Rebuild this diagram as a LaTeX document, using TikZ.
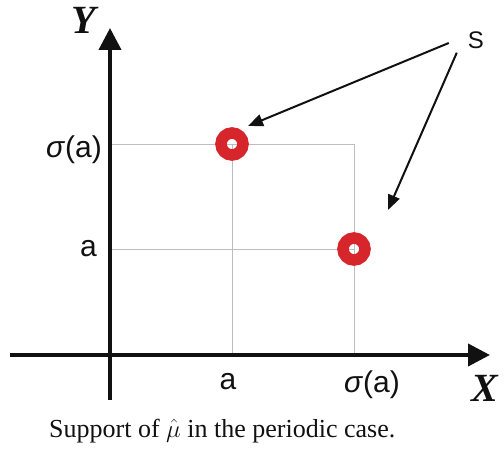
\documentclass[tikz,border=0pt]{standalone}
\usepackage{fontspec}
\setmainfont{Liberation Serif}
\setsansfont{Liberation Sans}
\usetikzlibrary{arrows.meta,positioning}
\definecolor{SuppRed}{HTML}{D7262B}
\definecolor{SuppGrid}{HTML}{BDBDBD}
\definecolor{SuppInk}{HTML}{111111}

\begin{document}
\begin{tikzpicture}[
  x=1pt,y=-1pt,
  axis/.style={draw=SuppInk,line width=4pt,-{Triangle[length=22pt,width=22pt]}},
  guide/.style={draw=SuppGrid,line width=0.8pt},
  ring/.style={circle,draw=SuppRed,line width=11.5pt,minimum size=22pt,inner sep=0pt},
  pointer/.style={draw=SuppInk,line width=2pt,-{Triangle[length=15pt,width=12pt]}},
  tick/.style={text=SuppInk,font=\sffamily\fontsize{30}{30}\selectfont,inner sep=0pt},
  axlabel/.style={text=SuppInk,font=\bfseries\itshape\fontsize{40}{40}\selectfont,inner sep=0pt},
  caption/.style={text=SuppInk,font=\fontsize{26}{30}\selectfont,inner sep=0pt}
]
\useasboundingbox (0,0) rectangle (504,449);
% axes
\coordinate (ybot) at (110,400);
\coordinate (ytop) at (110,28);
\coordinate (xleft) at (10,355);
\coordinate (xright) at (490,355);
\coordinate (ga) at (232,144);
\coordinate (gb) at (354,249);
\draw[guide] (ybot |- ga) -- (gb |- ga) -- (gb |- xleft);
\draw[guide] (ga) -- (ga |- xleft);
\draw[guide] (ybot |- gb) -- (gb);
\draw[axis] (ybot) -- (ytop);
\draw[axis] (xleft) -- (xright);
\node[axlabel] (ylab) at (84,20) {Y};
\node[axlabel] (xlab) at (485,388) {X};
% tick labels
\node[tick,anchor=east] (ysa) at (102,150) {\textit{σ}(a)};
\node[tick,anchor=east] (ya) at (97,249) {a};
\node[tick] (xa) at (228,382) {a};
\node[tick] (xsa) at (372,385) {\textit{σ}(a)};
% support points
\node[ring] (pa) at (ga) {};
\node[ring] (pb) at (gb) {};
\node[tick,font=\sffamily\fontsize{24}{24}\selectfont] (s) at (476,40) {S};
\coordinate (tipa) at (248,126);
\coordinate (tipb) at (388,210);
\draw[pointer] ([shift={(-19,3)}]s.west) -- (tipa);
\draw[pointer] ([shift={(-11,4)}]s.south west) -- (tipb);
\node[caption,anchor=base west] (cap) at (49,437) {Support of $\hat{\mu}$ in the periodic case.};
\end{tikzpicture}
\end{document}
